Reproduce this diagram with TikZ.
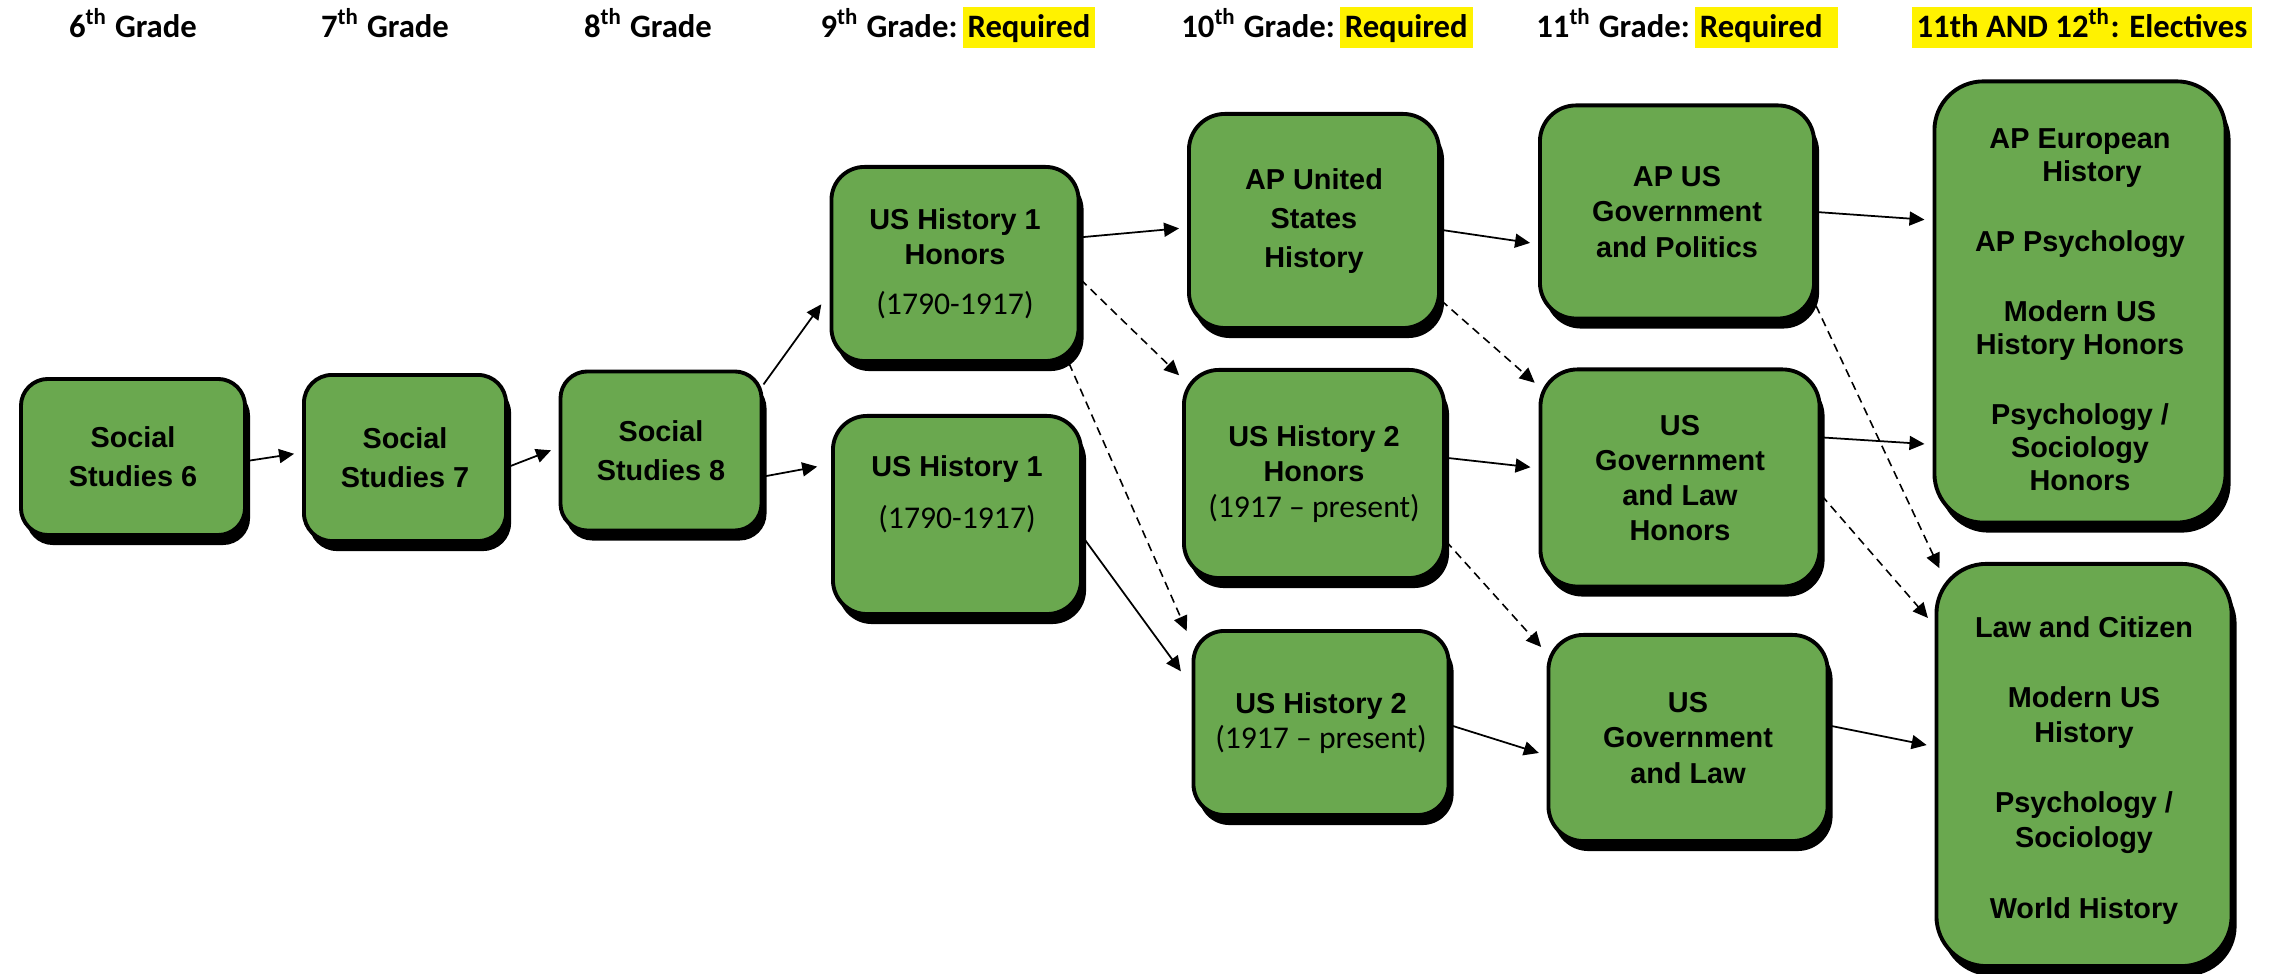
\documentclass[tikz,border=0pt]{standalone}
\usepackage{fontspec}
\setmainfont{Liberation Sans}
\newfontfamily\calfont{Carlito}
\usetikzlibrary{arrows.meta}
\usetikzlibrary{shadows}
\definecolor{coursegreen}{RGB}{106,168,79}
\newcommand{\hlbox}[2][0cm]{{\setlength{\fboxsep}{0pt}\colorbox{yellow}{\rule[-0.10cm]{0pt}{0.41cm}\hspace{0.05cm}#2\hspace{0.05cm}\hspace{#1}}}}
\newcommand{\yearspan}[1]{{\calfont\mdseries\fontsize{9}{10}\selectfont #1}}

\begin{document}
\begin{tikzpicture}[x=0.01cm, y=-0.01cm,
    course/.style n args={3}{draw, line width=1.1pt, fill=coursegreen, rounded corners=#3cm,
        minimum width=#1cm, minimum height=#2cm, inner sep=0pt, align=center,
        font=\bfseries\fontsize{8.2}{10}\selectfont,
        drop shadow={shadow xshift=0.05cm, shadow yshift=-0.10cm, fill=black, opacity=1}},
    loose/.style={font=\bfseries\fontsize{8.2}{11}\selectfont},
    tight/.style={font=\bfseries\fontsize{8.2}{9.4}\selectfont},
    grade/.style={anchor=base, inner sep=0pt, font=\calfont\bfseries\fontsize{9.3}{11}\selectfont},
    arr/.style={-{Triangle[length=0.15cm, width=0.14cm]}, line width=0.5pt, shorten >=0.08cm},
    opt/.style={arr, line width=0.45pt, dash pattern=on 2.4pt off 1.6pt}]%
        \useasboundingbox (0,0) rectangle (2272,974);
        % grade headings
        \node[grade] (g6) at (133,38) {6\textsuperscript{th} Grade};
        \node[grade] (g7) at (385,38) {7\textsuperscript{th} Grade};
        \node[grade] (g8) at (648,38) {8\textsuperscript{th} Grade};
        \node[grade] (g9) at (958,38) {9\textsuperscript{th} Grade:\hspace{0.05cm}\hlbox{Required}};
        \node[grade] (g10) at (1327,38) {10\textsuperscript{th} Grade:\hspace{0.05cm}\hlbox{Required}};
        \node[grade] (g11) at (1687,38) {11\textsuperscript{th} Grade:\hspace{0.05cm}\hlbox[0.1cm]{Required}};
        \node[grade] (g12) at (2082,38) {\hlbox{11th AND 12\textsuperscript{th}: Electives}};
        % courses
        \node[course={2.24}{1.56}{0.27}, loose] (ss6) at (133,457) {Social\\Studies 6};
        \node[course={2.02}{1.66}{0.28}, loose] (ss7) at (405,458) {Social\\Studies 7};
        \node[course={2.01}{1.59}{0.27}, loose] (ss8) at (661,451) {Social\\Studies 8};
        \node[course={2.47}{1.94}{0.33}] (ush1h) at (955,264) {US History 1\\Honors\\[0.15cm]\yearspan{(1790-1917)}};
        \node[course={2.48}{1.98}{0.34}] (ush1) at (957,515) {US History 1\\[0.17cm]\yearspan{(1790-1917)}\\[0.1cm]\mbox{}};
        \node[course={2.50}{2.14}{0.36}, loose] (apush) at (1314,221) {AP United\\States\\History};
        \node[course={2.60}{2.08}{0.35}] (ush2h) at (1314,474) {US History 2\\Honors\\\yearspan{(1917 – present)}};
        \node[course={2.55}{1.84}{0.31}] (ush2) at (1321,723) {US History 2\\\yearspan{(1917 – present)}};
        \node[course={2.74}{2.13}{0.36}] (apgov) at (1677,212) {AP US\\Government\\and Politics};
        \node[course={2.79}{2.17}{0.37}] (govlawh) at (1680,478) {US\\Government\\and Law\\Honors};
        \node[course={2.79}{2.06}{0.35}] (govlaw) at (1688,738) {US\\Government\\and Law};
        \node[course={2.91}{4.41}{0.49}, tight] (elec1) at (2080,302) {\mbox{}\\[0.02cm]AP European\\\hspace{0.24cm}History\\[0.37cm]AP Psychology\\[0.37cm]Modern US\\History Honors\\[0.37cm]Psychology /\\Sociology\\Honors};
        \node[course={2.95}{4.02}{0.50}] (elec2) at (2084,765) {\mbox{}\\[-0.04cm]Law and Citizen\\[0.35cm]Modern US\\History\\[0.35cm]Psychology /\\Sociology\\[0.35cm]World History};
        % required paths
        \draw[arr] (ss6.-2) -- (ss7.177);
        \draw[arr] (ss7.-5) -- (ss8.178);
        \draw[arr, shorten >=0.14cm] (ss8.33) -- (ush1h.-167);
        \draw[arr, shorten >=0.14cm] (ss8.-14) -- (ush1.158);
        \draw[arr] (ush1h.12) -- (apush.-177);
        \draw[arr, shorten >=0.18cm] (ush1.-10) -- (ush2.164);
        \draw[arr] (apush.-4) -- (apgov.-167);
        \draw[arr] (ush2h.7) -- (govlawh.176);
        \draw[arr] (ush2.-1) -- (govlaw.-173);
        \draw[arr] (apgov.0) -- (elec1.151);
        \draw[arr] (govlawh.16) -- (elec1.-136);
        \draw[arr] (govlaw.5) -- (elec2.173);
        % optional paths
        \draw[opt, shorten >=0.04cm] (ush1h.-7) -- (ush2h.144);
        \draw[opt, shorten >=0.12cm] (ush1h.-41) -- (ush2.148);
        \draw[opt, shorten >=0.05cm] (apush.-32) -- (govlawh.147);
        \draw[opt] (ush2h.-27) -- (govlaw.149);
        \draw[opt, shorten >=-0.07cm] (apgov.-34) -- (elec2.126);
        \draw[opt, shorten >=0.1cm] (govlawh.-7) -- (elec2.137);
    \end{tikzpicture}
\end{document}
